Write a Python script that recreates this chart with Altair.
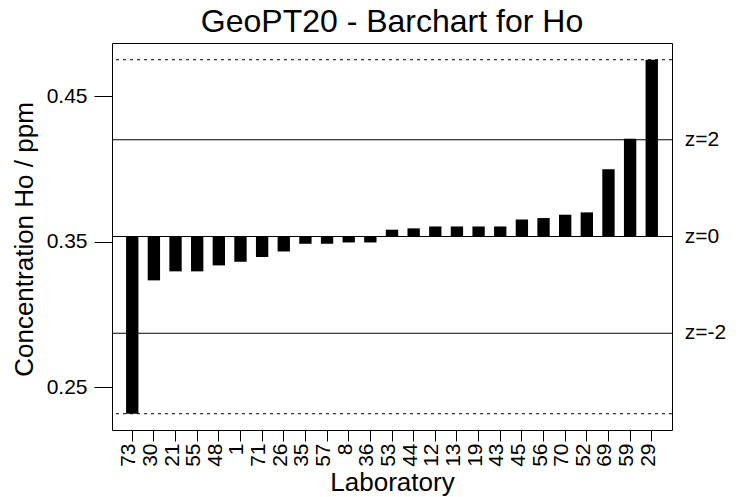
import altair as alt
import pandas as pd

labs = ["73", "30", "21", "55", "48", "1", "71", "26", "35", "57", "8", "36", "53",
        "44", "12", "13", "19", "43", "45", "56", "70", "52", "69", "59", "29"]
values = [0.2316, 0.3234, 0.3296, 0.3296, 0.3337, 0.3362, 0.3395, 0.3433, 0.3486,
          0.3486, 0.3495, 0.3495, 0.3583, 0.3592, 0.3605, 0.3605, 0.3605, 0.3605,
          0.3653, 0.3663, 0.3686, 0.3702, 0.3999, 0.4209, 0.4753]
assigned = 0.3536
z_values = [0.2870, 0.3536, 0.4202]
z_labels = ["z=-2", "z=0", "z=2"]
y_ticks = [0.25, 0.35, 0.45]
y_domain = [0.2204, 0.4868]

FONT = "Liberation Sans"

bars_df = pd.DataFrame({"lab": labs, "value": values})
z_df = pd.DataFrame({"value": z_values, "label": z_labels})
range_df = pd.DataFrame({"value": [min(values), max(values)]})

yscale = alt.Scale(domain=y_domain, nice=False, zero=False)
yaxis = alt.Axis(
    values=y_ticks, format=".2f", title="Concentration Ho / ppm",
    tickSize=18, labelPadding=7, titleX=-80, titleY=196,
    titleAngle=270, titleBaseline="alphabetic", titleAlign="center",
)


def yenc():
    return alt.Y("value:Q", scale=yscale, axis=yaxis)


bars = alt.Chart(bars_df).mark_bar(color="black").encode(
    x=alt.X(
        "lab:N", sort=None,
        scale=alt.Scale(paddingInner=0.43, paddingOuter=0.65),
        axis=alt.Axis(
            title="Laboratory", labelAngle=270, labelAlign="right",
            labelBaseline="alphabetic", labelOffset=3, labelPadding=2,
            tickSize=11, titleX=280, titleY=60, titleBaseline="alphabetic",
            titleAlign="center", titleAnchor="middle",
        ),
    ),
    y=yenc(),
    y2=alt.datum(assigned),
)

zrules = alt.Chart(z_df).mark_rule(color="black", strokeWidth=1).encode(y=yenc())

dashed = alt.Chart(range_df).mark_rule(
    color="black", strokeWidth=1, strokeDash=[3, 4]
).encode(y=yenc())

zlabels = alt.Chart(z_df).mark_text(
    align="left", baseline="middle", fontSize=21, font=FONT, color="black"
).encode(
    x=alt.value(572.7),
    y=yenc(),
    text="label:N",
)

chart = alt.layer(bars, zrules, dashed, zlabels).properties(
    width=560,
    height=387,
    autosize=alt.AutoSizeParams(type="none"),
    padding={"left": 104, "top": 35, "right": 67, "bottom": 66},
    title=alt.Title(
        "GeoPT20 - Barchart for Ho", fontSize=32, font=FONT, fontWeight="normal",
        anchor="middle", frame="group", offset=4, color="black",
    ),
).configure(
    background="white"
).configure_view(
    stroke="black", strokeWidth=1
).configure_axis(
    grid=False, domain=False,
    labelFont=FONT, labelFontSize=21, labelColor="black",
    titleFont=FONT, titleFontSize=26, titleFontWeight="normal", titleColor="black",
    tickColor="black", tickWidth=1,
)

chart.save("out.html", embed_options={"renderer": "svg", "actions": False})
